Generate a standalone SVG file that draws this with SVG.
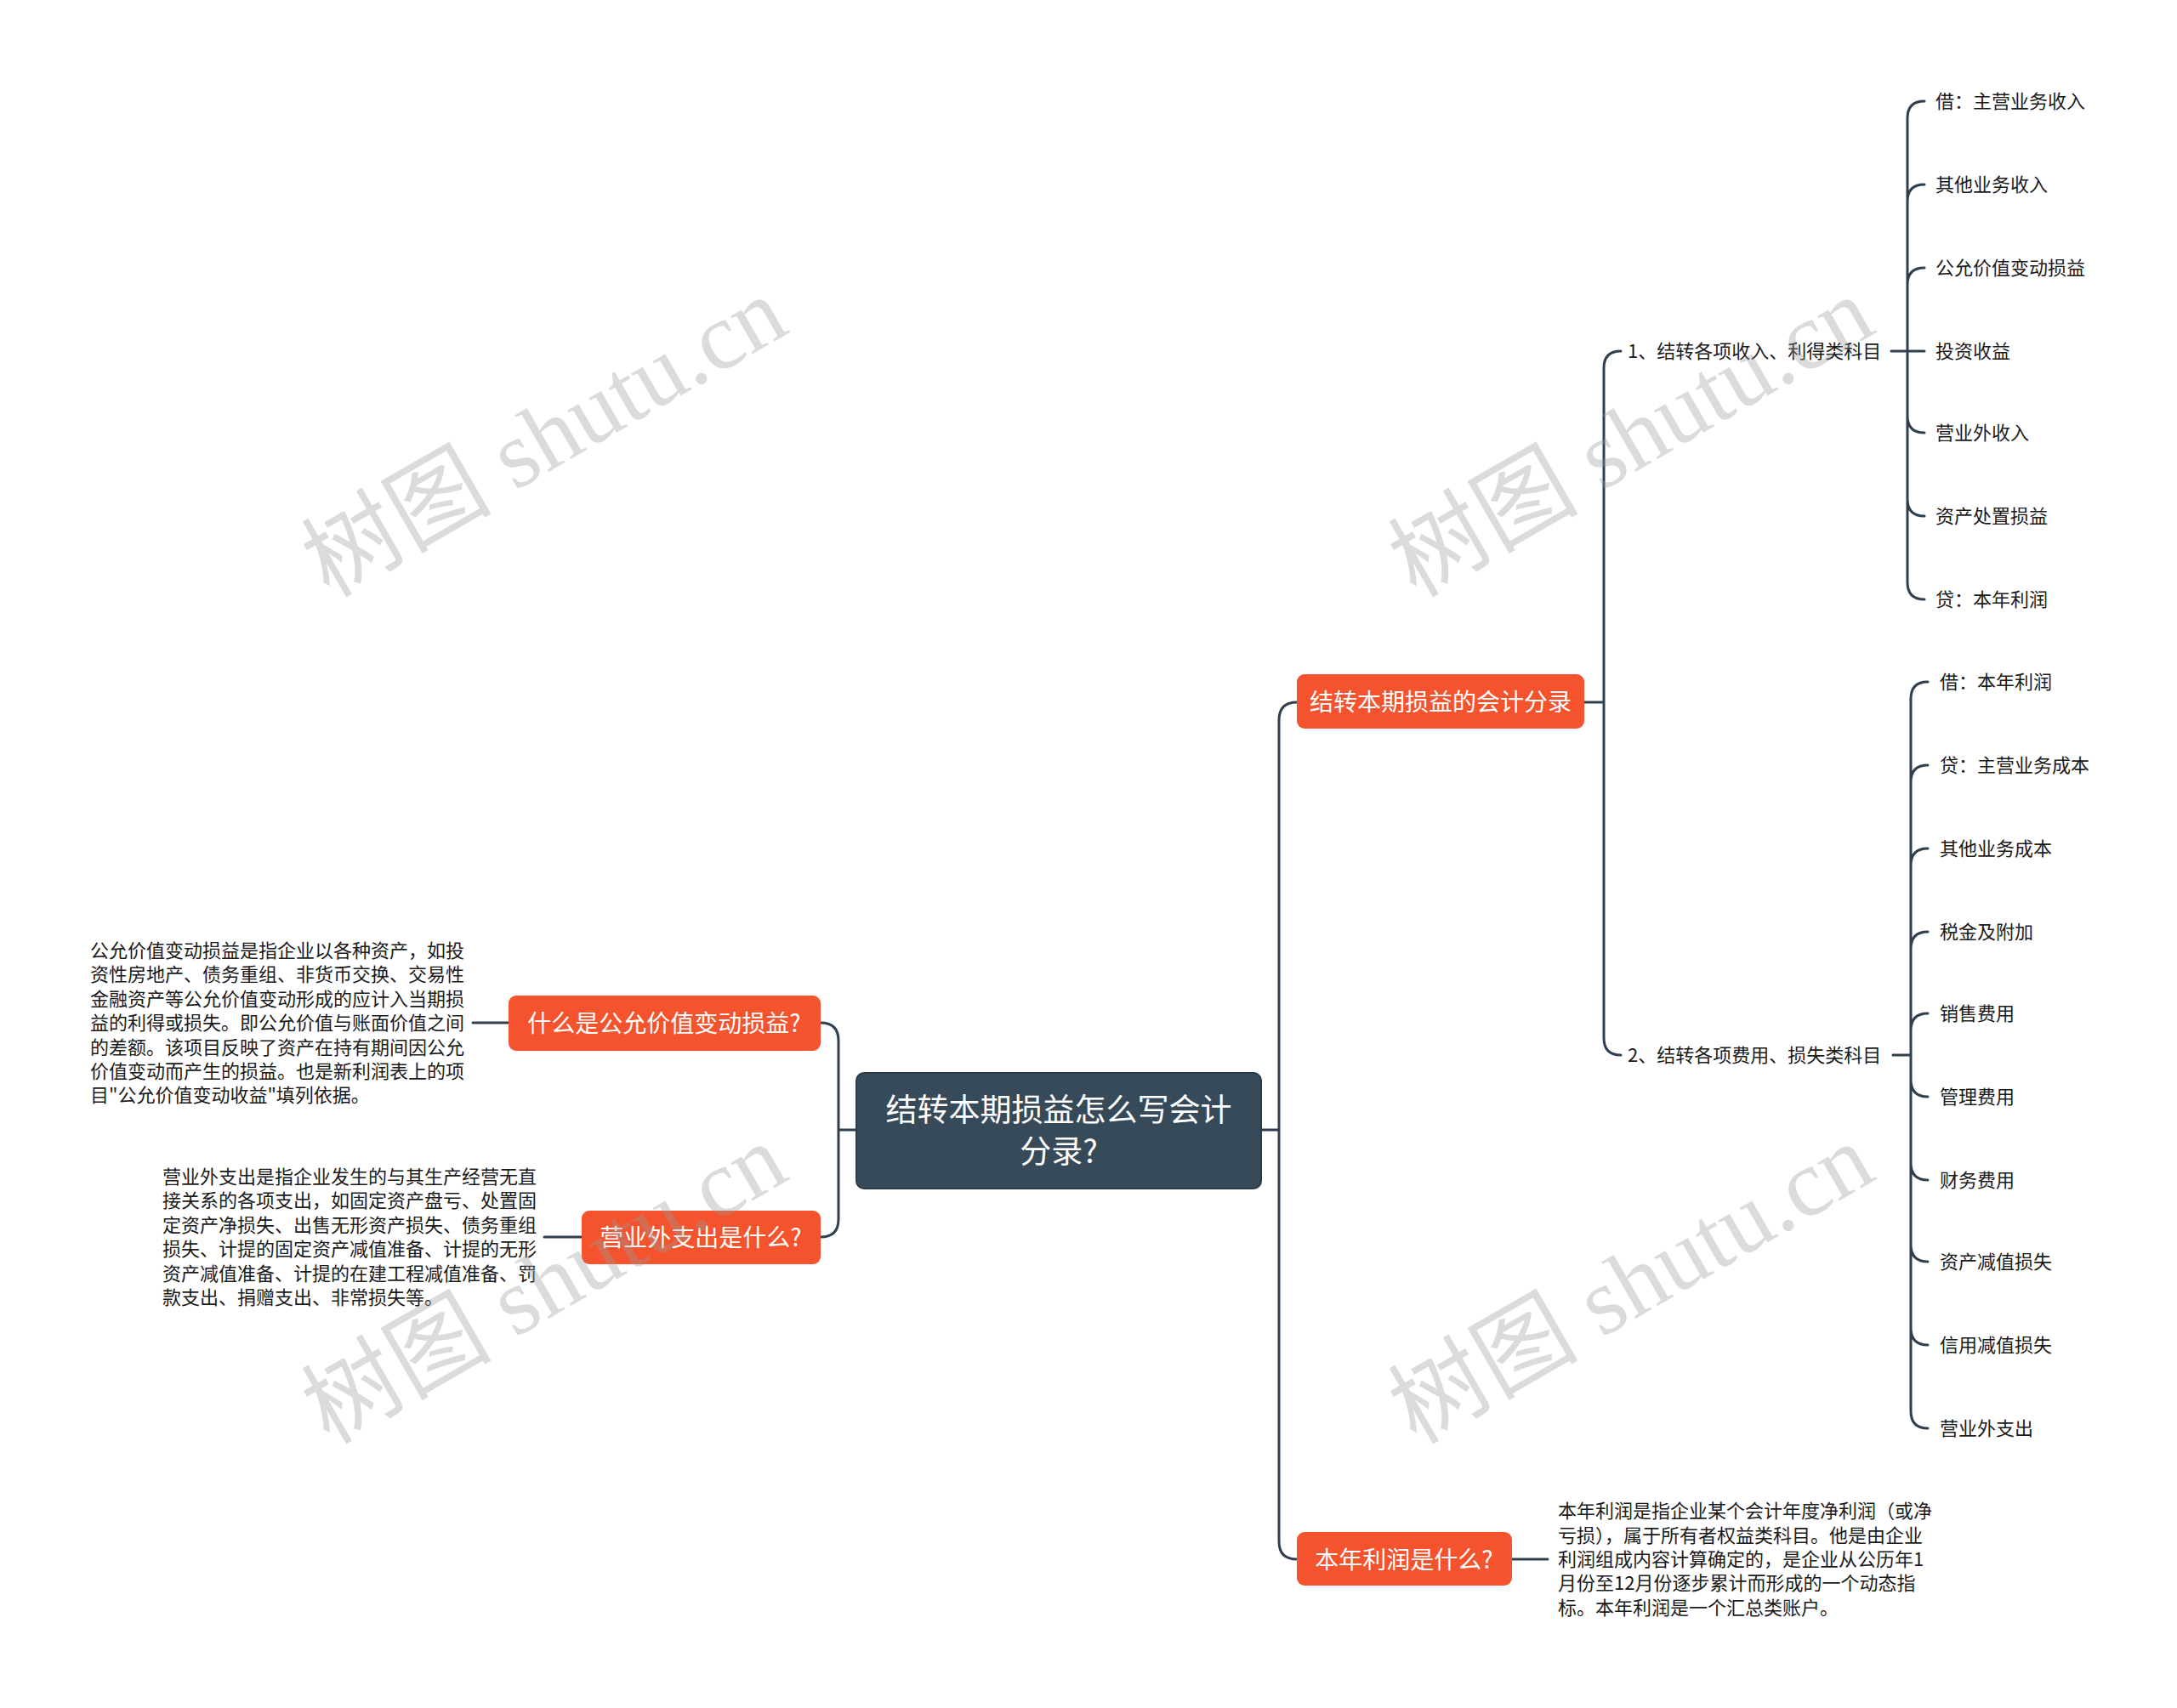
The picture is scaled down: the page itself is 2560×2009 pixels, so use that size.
<svg xmlns="http://www.w3.org/2000/svg" width="2560" height="2009" viewBox="0 0 2560 2009">
<style>
.ln{fill:none;stroke:#2f3f4f;stroke-width:3;stroke-linecap:round}
.t{font-family:"Noto Sans CJK SC","Liberation Sans",sans-serif;font-size:22px;fill:#1a1a1a}
.ob{fill:#f4532d}
.ot{font-family:"Noto Sans CJK SC","Liberation Sans",sans-serif;font-size:28px;fill:#ffffff;text-anchor:middle}
.wm{font-family:"Liberation Serif","Noto Sans CJK SC",serif;font-size:112px;fill:#9a9a9a;opacity:0.35;text-anchor:middle}
</style>
<rect width="2560" height="2009" fill="#ffffff"/>
<g id="connectors">
<path class="ln" d="M1483,1329 L1504,1329 M1525,826 Q1504,826 1504,847 L1504,1813 Q1504,1834 1525,1834"/>
<path class="ln" d="M1007,1329 L986,1329 M965,1203 Q986,1203 986,1224 L986,1434 Q986,1455 965,1455"/>
<path class="ln" d="M556,1203 L598,1203 M640,1455 L684,1455 M1778,1834 L1820,1834"/>
<path class="ln" d="M1863,826 L1886,826 M1906,413 Q1886,413 1886,433 L1886,1221 Q1886,1241 1906,1241"/>
<path class="ln" d="M2224,413 L2263,413 M2243,413 L2243,139 Q2243,119 2263,119 M2243,237 Q2243,217 2263,217 M2243,335 Q2243,315 2263,315 M2243,413 L2243,685 Q2243,705 2263,705 M2243,489 Q2243,509 2263,509 M2243,587 Q2243,607 2263,607"/>
<path class="ln" d="M2226,1241 L2247,1241 M2247,1241 L2247,822 Q2247,802 2267,802 M2247,920 Q2247,900 2267,900 M2247,1018 Q2247,998 2267,998 M2247,1116 Q2247,1096 2267,1096 M2247,1212 Q2247,1192 2267,1192 M2247,1241 L2247,1660 Q2247,1680 2267,1680 M2247,1270 Q2247,1290 2267,1290 M2247,1368 Q2247,1388 2267,1388 M2247,1464 Q2247,1484 2267,1484 M2247,1562 Q2247,1582 2267,1582"/>
</g>
<g id="root">
<rect x="1007" y="1262" width="476" height="136" rx="9" fill="#374a5a" stroke="#2b3b49" stroke-width="2"/>
<text font-family="Noto Sans CJK SC,Liberation Sans,sans-serif" font-size="37" fill="#ffffff" text-anchor="middle"><tspan x="1245" y="1319">结转本期损益怎么写会计</tspan><tspan x="1245" y="1368">分录?</tspan></text>
</g>
<g id="n-entry">
<rect class="ob" x="1525" y="793" width="338" height="64" rx="9"/>
<text class="ot" x="1694" y="836">结转本期损益的会计分录</text>
</g>
<g id="n-fair">
<rect class="ob" x="598" y="1171" width="367" height="65" rx="9"/>
<text class="ot" x="781" y="1214">什么是公允价值变动损益?</text>
</g>
<g id="n-nonop">
<rect class="ob" x="684" y="1424" width="281" height="63" rx="9"/>
<text class="ot" x="824" y="1466">营业外支出是什么?</text>
</g>
<g id="n-profit">
<rect class="ob" x="1525" y="1802" width="253" height="63" rx="9"/>
<text class="ot" x="1651" y="1845">本年利润是什么?</text>
</g>
<g id="d-fair">
<text class="t"><tspan x="106" y="1126">公允价值变动损益是指企业以各种资产，如投</tspan><tspan x="106" y="1154">资性房地产、债务重组、非货币交换、交易性</tspan><tspan x="106" y="1183">金融资产等公允价值变动形成的应计入当期损</tspan><tspan x="106" y="1211">益的利得或损失。即公允价值与账面价值之间</tspan><tspan x="106" y="1240">的差额。该项目反映了资产在持有期间因公允</tspan><tspan x="106" y="1268">价值变动而产生的损益。也是新利润表上的项</tspan><tspan x="106" y="1296">目"公允价值变动收益"填列依据。</tspan></text>
</g>
<g id="d-nonop">
<text class="t"><tspan x="191" y="1392">营业外支出是指企业发生的与其生产经营无直</tspan><tspan x="191" y="1420">接关系的各项支出，如固定资产盘亏、处置固</tspan><tspan x="191" y="1449">定资产净损失、出售无形资产损失、债务重组</tspan><tspan x="191" y="1477">损失、计提的固定资产减值准备、计提的无形</tspan><tspan x="191" y="1506">资产减值准备、计提的在建工程减值准备、罚</tspan><tspan x="191" y="1534">款支出、捐赠支出、非常损失等。</tspan></text>
</g>
<g id="d-profit">
<text class="t"><tspan x="1832" y="1785">本年利润是指企业某个会计年度净利润（或净</tspan><tspan x="1832" y="1814">亏损），属于所有者权益类科目。他是由企业</tspan><tspan x="1832" y="1842">利润组成内容计算确定的，是企业从公历年1</tspan><tspan x="1832" y="1870">月份至12月份逐步累计而形成的一个动态指</tspan><tspan x="1832" y="1899">标。本年利润是一个汇总类账户。</tspan></text>
</g>
<g id="n-income"><text class="t" x="1914" y="421">1、结转各项收入、利得类科目</text></g>
<g id="n-expense"><text class="t" x="1914" y="1249">2、结转各项费用、损失类科目</text></g>
<g id="i1"><text class="t" x="2276" y="127">借：主营业务收入</text></g>
<g id="i2"><text class="t" x="2276" y="225">其他业务收入</text></g>
<g id="i3"><text class="t" x="2276" y="323">公允价值变动损益</text></g>
<g id="i4"><text class="t" x="2276" y="421">投资收益</text></g>
<g id="i5"><text class="t" x="2276" y="517">营业外收入</text></g>
<g id="i6"><text class="t" x="2276" y="615">资产处置损益</text></g>
<g id="i7"><text class="t" x="2276" y="713">贷：本年利润</text></g>
<g id="e1"><text class="t" x="2281" y="810">借：本年利润</text></g>
<g id="e2"><text class="t" x="2281" y="908">贷：主营业务成本</text></g>
<g id="e3"><text class="t" x="2281" y="1006">其他业务成本</text></g>
<g id="e4"><text class="t" x="2281" y="1104">税金及附加</text></g>
<g id="e5"><text class="t" x="2281" y="1200">销售费用</text></g>
<g id="e6"><text class="t" x="2281" y="1298">管理费用</text></g>
<g id="e7"><text class="t" x="2281" y="1396">财务费用</text></g>
<g id="e8"><text class="t" x="2281" y="1492">资产减值损失</text></g>
<g id="e9"><text class="t" x="2281" y="1590">信用减值损失</text></g>
<g id="e10"><text class="t" x="2281" y="1688">营业外支出</text></g>
<g id="watermarks">
<text class="wm" transform="translate(640,514) rotate(-30)" y="38">树图 shutu.cn</text>
<text class="wm" transform="translate(1918,514) rotate(-30)" y="38">树图 shutu.cn</text>
<text class="wm" transform="translate(640,1510) rotate(-30)" y="38">树图 shutu.cn</text>
<text class="wm" transform="translate(1918,1510) rotate(-30)" y="38">树图 shutu.cn</text>
</g>
</svg>
